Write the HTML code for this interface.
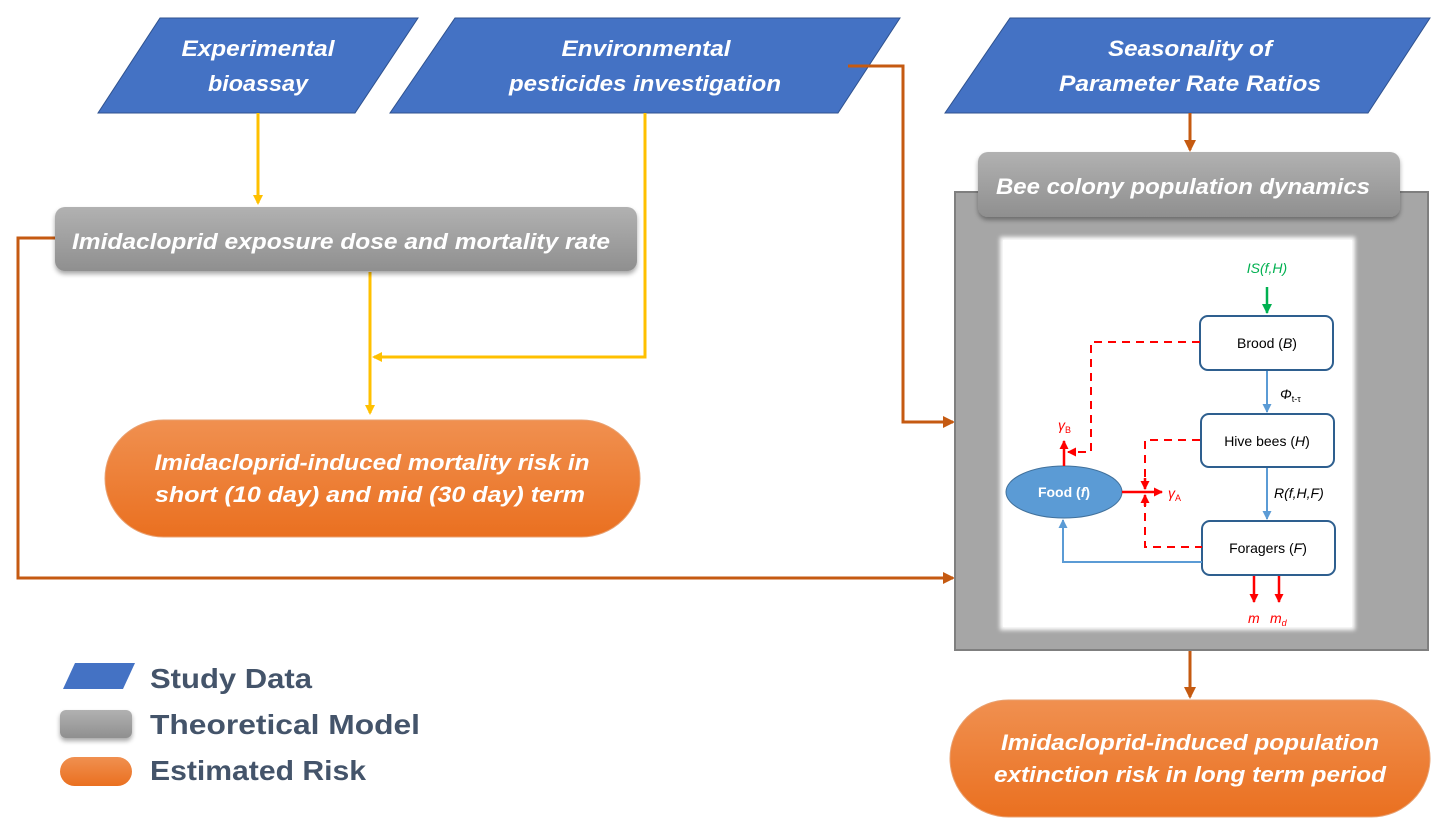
<!DOCTYPE html>
<html><head><meta charset="utf-8"><style>
html,body{margin:0;padding:0;background:#fff;}
svg{display:block;}
.t{font-family:"Liberation Sans",sans-serif;font-weight:bold;font-style:italic;fill:#fff;font-size:22px;}
.s{font-family:"Liberation Sans",sans-serif;font-size:14px;}
.l{font-family:"Liberation Sans",sans-serif;font-weight:bold;font-size:28px;fill:#44546A;}
</style></head><body>
<svg width="1454" height="833" viewBox="0 0 1454 833" xmlns="http://www.w3.org/2000/svg">
<defs>
<linearGradient id="gg" x1="0" y1="0" x2="0" y2="1"><stop offset="0" stop-color="#b1b1b1"/><stop offset="1" stop-color="#8f8f8f"/></linearGradient>
<linearGradient id="og" x1="0" y1="0" x2="0" y2="1"><stop offset="0" stop-color="#f09050"/><stop offset="1" stop-color="#ea7020"/></linearGradient>
<filter id="sh" x="-10%" y="-20%" width="120%" height="150%"><feDropShadow dx="0" dy="3" stdDeviation="2.5" flood-color="#000" flood-opacity="0.35"/></filter>
<filter id="bl"><feGaussianBlur stdDeviation="2"/></filter>
<marker id="ay" markerWidth="10" markerHeight="10" refX="8" refY="5" orient="auto" markerUnits="userSpaceOnUse"><path d="M0,0 L10,5 L0,10z" fill="#FFC000"/></marker>
<marker id="ab" markerWidth="12" markerHeight="12" refX="10" refY="6" orient="auto" markerUnits="userSpaceOnUse"><path d="M0,0 L12,6 L0,12z" fill="#C55A11"/></marker>
<marker id="ar" markerWidth="9" markerHeight="9" refX="8" refY="4.5" orient="auto" markerUnits="userSpaceOnUse"><path d="M0,0 L9,4.5 L0,9z" fill="#f00"/></marker>
<marker id="au" markerWidth="9" markerHeight="9" refX="8" refY="4.5" orient="auto" markerUnits="userSpaceOnUse"><path d="M0,0 L9,4.5 L0,9z" fill="#5B9BD5"/></marker>
<marker id="agr" markerWidth="10" markerHeight="10" refX="9" refY="5" orient="auto" markerUnits="userSpaceOnUse"><path d="M0,0 L10,5 L0,10z" fill="#00B050"/></marker>
</defs>

<polygon points="160,18 418,18 355,113 98,113" fill="#4472C4" stroke="#2F528F" stroke-width="1"/>
<text class="t" x="258" y="56" text-anchor="middle" textLength="153" lengthAdjust="spacingAndGlyphs">Experimental</text>
<text class="t" x="258" y="91" text-anchor="middle" textLength="100" lengthAdjust="spacingAndGlyphs">bioassay</text>
<polygon points="455,18 900,18 838,113 390,113" fill="#4472C4" stroke="#2F528F" stroke-width="1"/>
<text class="t" x="646" y="56" text-anchor="middle" textLength="169" lengthAdjust="spacingAndGlyphs">Environmental</text>
<text class="t" x="645" y="91" text-anchor="middle" textLength="272" lengthAdjust="spacingAndGlyphs">pesticides investigation</text>
<polygon points="1010,18 1430,18 1368,113 945,113" fill="#4472C4" stroke="#2F528F" stroke-width="1"/>
<text class="t" x="1190" y="56" text-anchor="middle" textLength="164" lengthAdjust="spacingAndGlyphs">Seasonality of</text>
<text class="t" x="1190" y="91" text-anchor="middle" textLength="262" lengthAdjust="spacingAndGlyphs">Parameter Rate Ratios</text>

<g stroke="#FFC000" stroke-width="3" fill="none">
<line x1="258" y1="113" x2="258" y2="203" marker-end="url(#ay)"/>
<polyline points="645,113 645,357 374,357" marker-end="url(#ay)"/>
<line x1="370" y1="272" x2="370" y2="413" marker-end="url(#ay)"/>
</g>
<g stroke="#C55A11" stroke-width="3" fill="none">
<polyline points="848,66 903,66 903,422 953,422" marker-end="url(#ab)"/>
<polyline points="55,238 18,238 18,578 953,578" marker-end="url(#ab)"/>
<line x1="1190" y1="113" x2="1190" y2="150" marker-end="url(#ab)"/>
<line x1="1190" y1="650" x2="1190" y2="697" marker-end="url(#ab)"/>
</g>

<rect x="55" y="207" width="582" height="64" rx="10" fill="url(#gg)" filter="url(#sh)"/>
<text class="t" x="341" y="249" text-anchor="middle" textLength="538" lengthAdjust="spacingAndGlyphs">Imidacloprid exposure dose and mortality rate</text>

<rect x="105" y="420" width="535" height="117" rx="58.5" fill="url(#og)" stroke="#e8a070" stroke-width="1"/>
<text class="t" x="372" y="470" text-anchor="middle" textLength="435" lengthAdjust="spacingAndGlyphs">Imidacloprid-induced mortality risk in</text>
<text class="t" x="370" y="502" text-anchor="middle" textLength="430" lengthAdjust="spacingAndGlyphs">short (10 day) and mid (30 day) term</text>

<rect x="955" y="192" width="473" height="458" fill="#a6a6a6" stroke="#7f7f7f" stroke-width="2"/>
<rect x="1000" y="237" width="355" height="393" fill="#fff" filter="url(#bl)"/>
<rect x="1003" y="240" width="349" height="387" fill="#fff"/>
<rect x="978" y="152" width="422" height="65" rx="10" fill="url(#gg)" filter="url(#sh)"/>
<text class="t" x="996" y="194" textLength="374" lengthAdjust="spacingAndGlyphs">Bee colony population dynamics</text>

<text class="s" x="1267" y="273" text-anchor="middle" fill="#00B050" font-style="italic">IS(f,H)</text>
<line x1="1267" y1="287" x2="1267" y2="313" stroke="#00B050" stroke-width="2.5" marker-end="url(#agr)"/>
<g fill="#fff" stroke="#2E5F8F" stroke-width="2">
<rect x="1200" y="316" width="133" height="54" rx="8"/>
<rect x="1201" y="414" width="133" height="53" rx="8"/>
<rect x="1202" y="521" width="133" height="54" rx="8"/>
</g>
<text class="s" x="1267" y="348" text-anchor="middle">Brood (<tspan font-style="italic">B</tspan>)</text>
<text class="s" x="1267" y="446" text-anchor="middle">Hive bees (<tspan font-style="italic">H</tspan>)</text>
<text class="s" x="1268" y="553" text-anchor="middle">Foragers (<tspan font-style="italic">F</tspan>)</text>
<g stroke="#5B9BD5" stroke-width="2" fill="none">
<line x1="1267" y1="371" x2="1267" y2="412" marker-end="url(#au)"/>
<line x1="1267" y1="468" x2="1267" y2="519" marker-end="url(#au)"/>
<polyline points="1202,562 1063,562 1063,520" marker-end="url(#au)"/>
</g>
<text class="s" x="1280" y="399" font-style="italic">Φ<tspan font-size="9" font-style="normal" dy="3">t-τ</tspan></text>
<text class="s" x="1274" y="498" font-style="italic">R(f,H,F)</text>
<ellipse cx="1064" cy="492" rx="58" ry="26" fill="#5B9BD5" stroke="#41719C" stroke-width="1"/>
<text class="s" x="1064" y="497" text-anchor="middle" fill="#fff" font-weight="bold">Food (<tspan font-style="italic">f</tspan>)</text>
<g stroke="#f00" stroke-width="2" fill="none" stroke-dasharray="8,6">
<polyline points="1200,342 1091,342 1091,452 1068,452" marker-end="url(#ar)"/>
<polyline points="1200,440 1145,440 1145,485"/>
<polyline points="1145,499 1145,547 1202,547"/>
</g>
<g stroke="#f00" stroke-width="2.5" fill="none">
<line x1="1064" y1="466" x2="1064" y2="441" marker-end="url(#ar)"/>
<line x1="1122" y1="492" x2="1162" y2="492" marker-end="url(#ar)"/>
<line x1="1145" y1="478" x2="1145" y2="489" marker-end="url(#ar)"/>
<line x1="1145" y1="506" x2="1145" y2="495" marker-end="url(#ar)"/>
<line x1="1254" y1="576" x2="1254" y2="602" marker-end="url(#ar)"/>
<line x1="1279" y1="576" x2="1279" y2="602" marker-end="url(#ar)"/>
</g>
<text class="s" x="1058" y="430" fill="#f00" font-style="italic">γ<tspan font-size="9" font-style="normal" dy="3">B</tspan></text>
<text class="s" x="1168" y="498" fill="#f00" font-style="italic">γ<tspan font-size="9" font-style="normal" dy="3">A</tspan></text>
<text class="s" x="1248" y="623" fill="#f00" font-style="italic">m</text>
<text class="s" x="1270" y="623" fill="#f00" font-style="italic">m<tspan font-size="9" dy="3">d</tspan></text>

<rect x="950" y="700" width="480" height="117" rx="58.5" fill="url(#og)" stroke="#e8a070" stroke-width="1"/>
<text class="t" x="1190" y="750" text-anchor="middle" textLength="378" lengthAdjust="spacingAndGlyphs">Imidacloprid-induced population</text>
<text class="t" x="1190" y="782" text-anchor="middle" textLength="392" lengthAdjust="spacingAndGlyphs">extinction risk in long term period</text>

<polygon points="75,663 135,663 123,689 63,689" fill="#4472C4"/>
<rect x="60" y="710" width="72" height="28" rx="6" fill="url(#gg)" filter="url(#sh)"/>
<rect x="60" y="757" width="72" height="29" rx="14.5" fill="url(#og)"/>
<text class="l" x="150" y="688" textLength="162" lengthAdjust="spacingAndGlyphs">Study Data</text>
<text class="l" x="150" y="734" textLength="270" lengthAdjust="spacingAndGlyphs">Theoretical Model</text>
<text class="l" x="150" y="780" textLength="216" lengthAdjust="spacingAndGlyphs">Estimated Risk</text>
</svg>
</body></html>
